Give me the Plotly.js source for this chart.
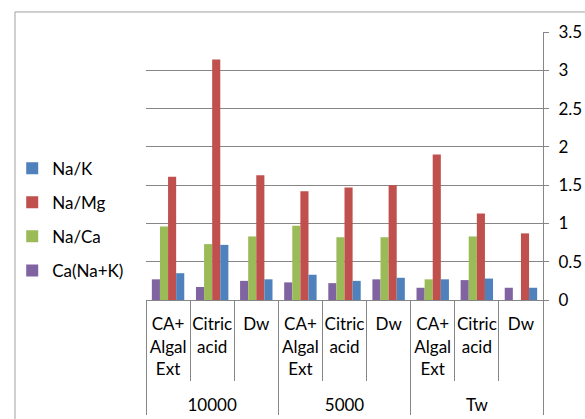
<!DOCTYPE html>
<html>
<head>
<meta charset="utf-8">
<script src="https://cdn.plot.ly/plotly-3.0.1.min.js"></script>
<style>html,body{margin:0;padding:0;background:#fff;}#chart{width:585px;height:419px;}</style>
</head>
<body>
<div id="chart"></div>
<script>
var outerCats = ['10000','10000','10000','5000','5000','5000','Tw','Tw','Tw'];
var innerCats = ['CA+<br>Algal<br>Ext<br>\u00A0','Citric<br>acid','Dw','CA+<br>Algal<br>Ext<br>\u00A0','Citric<br>acid','Dw','CA+<br>Algal<br>Ext<br>\u00A0','Citric<br>acid','Dw'];
var caNaK = [0.27,0.17,0.25,0.23,0.22,0.27,0.16,0.26,0.16];
var naCa  = [0.96,0.73,0.83,0.97,0.82,0.82,0.27,0.83,0];
var naMg  = [1.61,3.14,1.63,1.42,1.47,1.50,1.90,1.13,0.87];
var naK   = [0.35,0.72,0.27,0.33,0.25,0.29,0.27,0.28,0.16];
var yTicks = [0,0.5,1,1.5,2,2.5,3,3.5];

var seriesNames = ['Ca(Na+K)','Na/Ca','Na/Mg','Na/K'];
var seriesVals = [caNaK, naCa, naMg, naK];
var seriesColors = ['#8064A2','#9BBB59','#C0504D','#4F81BD'];
var legendRanks = [4,3,2,1];

var traces = seriesNames.map(function(n,i){
  return {type:'bar', name:n, x:[outerCats, innerCats], y:seriesVals[i],
    marker:{color:seriesColors[i]}, legendgroup:'g'+i, legendrank:legendRanks[i], hoverinfo:'y'};
});

var FONT = 'Lato, "Liberation Sans", sans-serif';
var FS = 17;
var layout = {
  width:585, height:419,
  margin:{l:141, r:42, t:32, b:119, pad:0},
  paper_bgcolor:'#fff', plot_bgcolor:'#fff',
  font:{family:FONT, size:FS, color:'#000'},
  barmode:'group', bargap:0.265, bargroupgap:0,
  showlegend:true,
  legend:{x:-0.337, xanchor:'left', y:0.3, yanchor:'middle', traceorder:'grouped',
    tracegroupgap:9, font:{family:FONT, size:FS, color:'#000'}, bgcolor:'rgba(0,0,0,0)'},
  xaxis:{type:'multicategory', showline:true, linecolor:'#868686', linewidth:1,
    ticks:'outside', tickson:'boundaries', ticklen:80, tickcolor:'#868686', tickwidth:1,
    ticklabelstandoff:9,
    showdividers:true, dividercolor:'#868686', dividerwidth:1,
    tickangle:0, showgrid:false, zeroline:false,
    tickfont:{family:FONT, size:FS, color:'#000'}},
  yaxis:{side:'right', range:[0,3.5], tickvals:yTicks, ticktext:yTicks.map(String),
    showline:true, linecolor:'#868686', linewidth:1,
    ticks:'outside', ticklen:5, tickcolor:'#868686',
    showgrid:true, gridcolor:'#868686', gridwidth:1, zeroline:false,
    ticklabelstandoff:6,
    tickfont:{family:FONT, size:FS, color:'#000'}},
  shapes:[{type:'rect', xref:'paper', yref:'paper', x0:-0.33, x1:1.3, y0:-0.7, y1:1.0748,
    line:{color:'#A0A0A0', width:1}, fillcolor:'rgba(0,0,0,0)', layer:'below'}]
};
Plotly.newPlot('chart', traces, layout, {displayModeBar:false, staticPlot:true});
</script>
</body>
</html>
